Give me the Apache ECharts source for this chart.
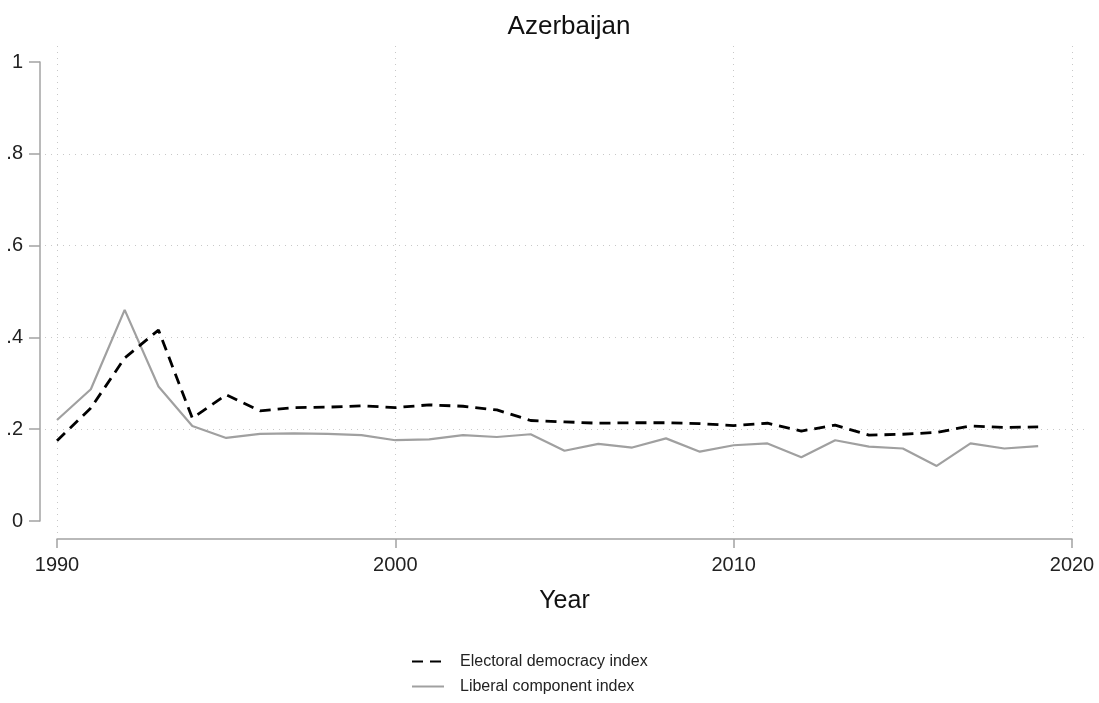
<!DOCTYPE html>
<html>
<head>
<meta charset="utf-8">
<script src="https://cdn.jsdelivr.net/npm/echarts@6/dist/echarts.min.js"></script>
<style>
  html, body { margin: 0; padding: 0; background: #fff; }
  #chart { width: 1099px; height: 703px; }
</style>
</head>
<body>
<div id="chart"></div>
<script>
// V-Dem indices, Azerbaijan 1990-2019
const years = [1990, 1991, 1992, 1993, 1994, 1995, 1996, 1997, 1998, 1999,
  2000, 2001, 2002, 2003, 2004, 2005, 2006, 2007, 2008, 2009,
  2010, 2011, 2012, 2013, 2014, 2015, 2016, 2017, 2018, 2019];
const electoral = [0.175, 0.246, 0.355, 0.416, 0.224, 0.275, 0.240, 0.247, 0.248, 0.251,
  0.247, 0.253, 0.250, 0.242, 0.219, 0.216, 0.213, 0.214, 0.214, 0.212,
  0.208, 0.213, 0.196, 0.209, 0.187, 0.189, 0.193, 0.207, 0.204, 0.205];
const liberal = [0.220, 0.287, 0.460, 0.293, 0.207, 0.181, 0.190, 0.191, 0.190, 0.187,
  0.176, 0.178, 0.187, 0.183, 0.189, 0.153, 0.168, 0.160, 0.180, 0.151,
  0.165, 0.169, 0.139, 0.176, 0.162, 0.158, 0.120, 0.169, 0.158, 0.163];
const seriesNames = ['Electoral democracy index', 'Liberal component index'];

const FONT = '"Liberation Sans", Arial, Helvetica, sans-serif';
const AXIS_GREY = '#a3a3a3';
const GRID_DOT = { color: '#c8c8c8', width: 1, type: [1, 5] };

const chart = echarts.init(document.getElementById('chart'), null, { renderer: 'canvas' });

const yLabel = (v) => (v === 0 ? '0' : v === 1 ? '1' : String(+v.toFixed(1)).replace(/^0/, ''));
const hiddenAxis = (extra) => Object.assign({
  type: 'value',
  axisLine: { show: false }, axisTick: { show: false }, axisLabel: { show: false },
  splitLine: { show: false }
}, extra);

chart.setOption({
  animation: false,
  textStyle: { fontFamily: FONT },
  title: {
    text: 'Azerbaijan', left: 564, top: 9, textAlign: 'center',
    textStyle: { fontFamily: FONT, fontSize: 26, fontWeight: 'normal', color: '#111' }
  },
  legend: {
    orient: 'vertical', left: 411, top: 652, padding: 0,
    itemWidth: 32, itemHeight: 14, itemGap: 6,
    itemStyle: { opacity: 0 },
    textStyle: { fontFamily: FONT, fontSize: 16, color: '#222', lineHeight: 19, padding: [0, 0, 0, 11] },
    data: seriesNames
  },
  grid: [
    { left: 57, right: 27, top: 62, bottom: 182 },   // data area
    { left: 57, right: 27, top: 46, bottom: 168 },   // vertical gridlines
    { left: 45, right: 12, top: 62, bottom: 182 }    // horizontal gridlines
  ],
  xAxis: [
    {
      gridIndex: 0, type: 'value', min: 1990, max: 2020, interval: 10, offset: 18,
      name: 'Year', nameLocation: 'middle', nameGap: 50,
      nameTextStyle: { fontFamily: FONT, fontSize: 25, color: '#111' },
      axisLine: { onZero: false, lineStyle: { color: AXIS_GREY, width: 1.5 } },
      axisTick: { length: 9, lineStyle: { color: AXIS_GREY, width: 1.5 } },
      axisLabel: { fontFamily: FONT, fontSize: 20, color: '#222', margin: 16, formatter: (v) => String(v) },
      splitLine: { show: false }
    },
    hiddenAxis({ gridIndex: 1, min: 1990, max: 2020, interval: 10,
      splitLine: { show: true, lineStyle: GRID_DOT } }),
    hiddenAxis({ gridIndex: 2, min: 0, max: 1 })
  ],
  yAxis: [
    {
      gridIndex: 0, type: 'value', min: 0, max: 1, interval: 0.2, offset: 17,
      axisLine: { show: true, onZero: false, lineStyle: { color: AXIS_GREY, width: 1.5 } },
      axisTick: { show: true, length: 11, lineStyle: { color: AXIS_GREY, width: 1.5 } },
      axisLabel: { fontFamily: FONT, fontSize: 20, color: '#222', margin: 17, formatter: yLabel },
      splitLine: { show: false }
    },
    hiddenAxis({ gridIndex: 1, min: 0, max: 1 }),
    hiddenAxis({ gridIndex: 2, min: 0, max: 1, interval: 0.2,
      splitLine: { show: true, showMinLine: false, showMaxLine: false, lineStyle: GRID_DOT } })
  ],
  series: [
    {
      name: seriesNames[0], type: 'line', xAxisIndex: 0, yAxisIndex: 0,
      data: years.map((y, i) => [y, electoral[i]]),
      showSymbol: false, symbol: 'none', z: 3,
      lineStyle: { color: '#000', width: 2.8, type: [11, 7] },
      itemStyle: { color: '#000' }
    },
    {
      name: seriesNames[1], type: 'line', xAxisIndex: 0, yAxisIndex: 0,
      data: years.map((y, i) => [y, liberal[i]]),
      showSymbol: false, symbol: 'none', z: 2,
      lineStyle: { color: '#a0a0a0', width: 2.2 },
      itemStyle: { color: '#a0a0a0' }
    }
  ]
});
</script>
</body>
</html>
